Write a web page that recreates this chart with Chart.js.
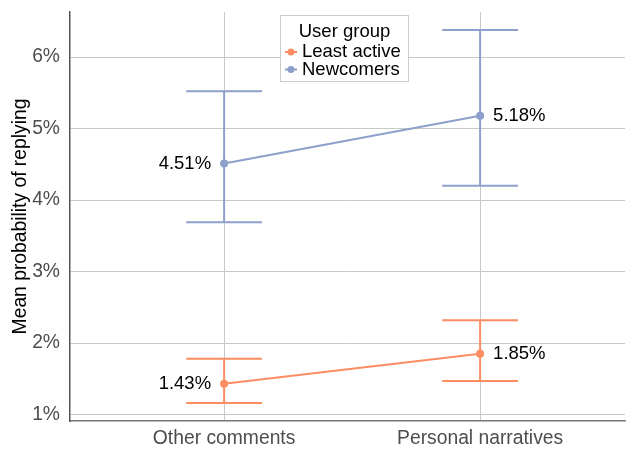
<!DOCTYPE html>
<html>
<head>
<meta charset="utf-8">
<script src="https://cdn.jsdelivr.net/npm/chart.js@4.4.1/dist/chart.umd.min.js"></script>
<style>
  html, body { margin: 0; padding: 0; background: #fff; }
  canvas { display: block; }
</style>
</head>
<body>
<canvas id="chartMain" width="629" height="449"></canvas>
<script>
const categories = ['Other comments', 'Personal narratives'];
const groupLabels = ['Least active', 'Newcomers'];
const groupColors = ['#fc8d62', '#8da0cb'];

// mean probability of replying (%) with lower / upper interval bounds
const leastActiveMean = [1.43, 1.85];
const leastActiveLow = [1.16, 1.47];
const leastActiveHigh = [1.78, 2.32];
const newcomersMean = [4.51, 5.18];
const newcomersLow = [3.69, 4.20];
const newcomersHigh = [5.52, 6.38];

const yTicks = [1, 2, 3, 4, 5, 6];

const fontFamily = "'Liberation Sans', Arial, Helvetica, sans-serif";
Chart.defaults.font.family = fontFamily;

const toPoints = arr => arr.map((v, i) => ({ x: i + 1, y: v }));

const dataLine = {
  datasets: [
    {
      label: groupLabels[0],
      data: toPoints(leastActiveMean),
      low: leastActiveLow,
      high: leastActiveHigh,
      borderColor: groupColors[0],
      backgroundColor: groupColors[0],
      borderWidth: 2,
      pointRadius: 4,
      pointBorderWidth: 0
    },
    {
      label: groupLabels[1],
      data: toPoints(newcomersMean),
      low: newcomersLow,
      high: newcomersHigh,
      borderColor: groupColors[1],
      backgroundColor: groupColors[1],
      borderWidth: 2,
      pointRadius: 4,
      pointBorderWidth: 0
    }
  ]
};

// error bars with caps, drawn through the chart scales
const errorBars = {
  id: 'errorBars',
  beforeDatasetsDraw: chart => {
    const ctx = chart.ctx;
    const xs = chart.scales.x;
    const ys = chart.scales.y;
    const capHalf = 0.148;
    ctx.save();
    chart.data.datasets.forEach(ds => {
      ctx.strokeStyle = ds.borderColor;
      ctx.lineWidth = 2;
      ds.data.forEach((p, i) => {
        const x = xs.getPixelForValue(p.x);
        const xl = xs.getPixelForValue(p.x - capHalf);
        const xr = xs.getPixelForValue(p.x + capHalf);
        const yl = ys.getPixelForValue(ds.low[i]);
        const yh = ys.getPixelForValue(ds.high[i]);
        ctx.beginPath();
        ctx.moveTo(x, yl);
        ctx.lineTo(x, yh);
        ctx.moveTo(xl, yh);
        ctx.lineTo(xr, yh);
        ctx.moveTo(xl, yl);
        ctx.lineTo(xr, yl);
        ctx.stroke();
      });
    });
    ctx.restore();
  }
};

// value labels next to each mean point
const valueLabels = {
  id: 'valueLabels',
  afterDatasetsDraw: chart => {
    const ctx = chart.ctx;
    ctx.save();
    ctx.font = `18.5px ${fontFamily}`;
    ctx.fillStyle = '#000';
    ctx.textBaseline = 'middle';
    chart.data.datasets.forEach((ds, di) => {
      const meta = chart.getDatasetMeta(di);
      meta.data.forEach((pt, i) => {
        const text = ds.data[i].y.toFixed(2) + '%';
        if (i === 0) {
          ctx.textAlign = 'right';
          ctx.fillText(text, pt.x - 13, pt.y);
        } else {
          ctx.textAlign = 'left';
          ctx.fillText(text, pt.x + 13, pt.y);
        }
      });
    });
    ctx.restore();
  }
};

// boxed legend inside the plot, top centre
const boxLegend = {
  id: 'boxLegend',
  afterDraw: chart => {
    const ctx = chart.ctx;
    const left = 280.5, top = 15.5, w = 128, h = 66;
    ctx.save();
    ctx.fillStyle = '#fff';
    ctx.fillRect(left, top, w, h);
    ctx.strokeStyle = '#cccccc';
    ctx.lineWidth = 1;
    ctx.strokeRect(left, top, w, h);
    ctx.font = `18.5px ${fontFamily}`;
    ctx.fillStyle = '#000';
    ctx.textBaseline = 'middle';
    ctx.textAlign = 'center';
    ctx.fillText('User group', left + w / 2, 32);
    ctx.textAlign = 'left';
    chart.data.datasets.forEach((ds, i) => {
      const y = 52 + i * 17.5;
      ctx.strokeStyle = ds.borderColor;
      ctx.fillStyle = ds.borderColor;
      ctx.lineWidth = 2;
      ctx.beginPath();
      ctx.moveTo(285, y);
      ctx.lineTo(297, y);
      ctx.stroke();
      ctx.beginPath();
      ctx.arc(291, y, 3.5, 0, Math.PI * 2);
      ctx.fill();
      ctx.fillStyle = '#000';
      ctx.fillText(ds.label, 302, y);
    });
    ctx.restore();
  }
};

const noScalePadding = scale => {
  scale.paddingTop = 0;
  scale.paddingBottom = 0;
  scale.paddingLeft = 0;
  scale.paddingRight = 0;
};

const configLine = {
  type: 'line',
  data: dataLine,
  options: {
    responsive: false,
    animation: false,
    layout: { padding: { top: 12, right: 0, left: 0, bottom: 0 } },
    scales: {
      x: {
        type: 'linear',
        min: 0.398,
        max: 2.566,
        afterBuildTicks: scale => {
          scale.ticks = categories.map((c, i) => ({ value: i + 1 }));
        },
        afterFit: scale => {
          scale.height = 28;
          noScalePadding(scale);
        },
        ticks: {
          callback: (v, i) => categories[i],
          color: '#4d4d4d',
          font: { size: 19.3 },
          padding: 6,
          maxRotation: 0
        },
        grid: { color: '#c8c8c8', drawTicks: false },
        border: { color: '#777777', width: 1.5 }
      },
      y: {
        min: 0.91,
        max: 6.63,
        afterBuildTicks: scale => {
          scale.ticks = yTicks.map(v => ({ value: v }));
        },
        afterFit: scale => {
          scale.width = 70;
          noScalePadding(scale);
        },
        ticks: {
          callback: v => v + '%',
          color: '#4d4d4d',
          font: { size: 19.3 },
          padding: 10
        },
        grid: { color: '#c8c8c8', drawTicks: false },
        border: { color: '#555555', width: 1.5 },
        title: {
          display: true,
          text: 'Mean probability of replying',
          color: '#000',
          font: { size: 19.3 },
          padding: { top: 9, bottom: 0 }
        }
      }
    },
    plugins: {
      legend: { display: false },
      tooltip: { enabled: false }
    }
  },
  plugins: [errorBars, valueLabels, boxLegend]
};

const chartMain = new Chart(document.getElementById('chartMain'), configLine);
</script>
</body>
</html>
